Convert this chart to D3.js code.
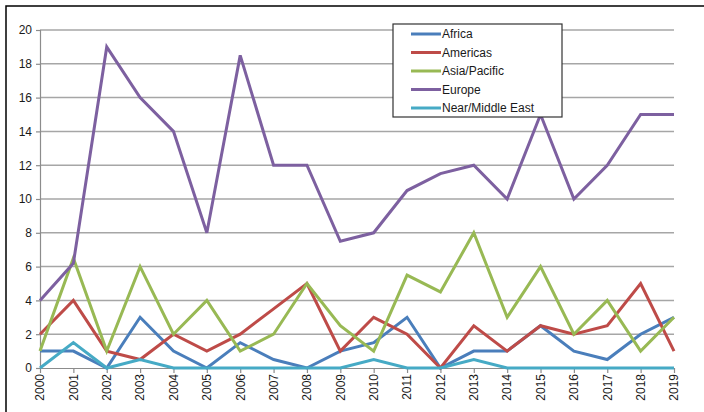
<!DOCTYPE html>
<html>
<head>
<meta charset="utf-8">
<script src="https://cdn.jsdelivr.net/npm/d3@7"></script>
<style>
  body { margin: 0; background: #fff; }
  svg { display: block; font-family: "Liberation Sans", Arial, sans-serif; }
</style>
</head>
<body>
<div id="chart"></div>
<script>
// years on the x axis
var years = d3.range(2000, 2020);

// incidents per region
var africa    = [1, 1, 0, 3, 1, 0, 1.5, 0.5, 0, 1, 1.5, 3, 0, 1, 1, 2.5, 1, 0.5, 2, 3];
var americas  = [2, 4, 1, 0.5, 2, 1, 2, 3.5, 5, 1, 3, 2, 0, 2.5, 1, 2.5, 2, 2.5, 5, 1];
var asiaPac   = [1, 6.5, 1, 6, 2, 4, 1, 2, 5, 2.5, 1, 5.5, 4.5, 8, 3, 6, 2, 4, 1, 3];
var europe    = [4, 6.2, 19, 16, 14, 8, 18.5, 12, 12, 7.5, 8, 10.5, 11.5, 12, 10, 15, 10, 12, 15, 15];
var nearEast  = [0, 1.5, 0, 0.5, 0, 0, 0, 0, 0, 0, 0.5, 0, 0, 0.5, 0, 0, 0, 0, 0, 0];

var seriesNames  = ["Africa", "Americas", "Asia/Pacific", "Europe", "Near/Middle East"];
var seriesValues = [africa, americas, asiaPac, europe, nearEast];
var seriesColors = ["#4a7ebb", "#be4b48", "#98b954", "#7d60a0", "#46aac5"];
var yTicks = [0, 2, 4, 6, 8, 10, 12, 14, 16, 18, 20];

var width = 704, height = 412;
var margin = {top: 30, right: 30, bottom: 44, left: 40};

var svg = d3.select("#chart").append("svg")
    .attr("width", width)
    .attr("height", height);

// outer frame (right / bottom edges fall outside the crop)
svg.append("rect")
    .attr("x", 6).attr("y", 6)
    .attr("width", 710).attr("height", 420)
    .attr("fill", "#fff")
    .attr("stroke", "#000")
    .attr("stroke-width", 1.5);

var x = d3.scalePoint()
    .domain(years)
    .range([margin.left, width - margin.right]);

var y = d3.scaleLinear()
    .domain([0, 20])
    .range([height - margin.bottom, margin.top]);

// gridlines
svg.append("g")
  .selectAll("line")
  .data(yTicks.slice(1))
  .join("line")
    .attr("x1", margin.left).attr("x2", width - margin.right)
    .attr("y1", function(d) { return y(d); })
    .attr("y2", function(d) { return y(d); })
    .attr("stroke", "#a6a6a6")
    .attr("stroke-width", 1.5);

// y axis
var yAxis = svg.append("g")
    .attr("transform", "translate(" + margin.left + ",0)")
    .call(d3.axisLeft(y).tickValues(yTicks).tickSize(4).tickPadding(4));
yAxis.selectAll("line, path").attr("stroke", "#8c8c8c").attr("stroke-width", 1.2);
yAxis.selectAll("text").attr("font-size", 12).attr("fill", "#1a1a1a")
    .attr("font-family", "Liberation Sans, Arial, sans-serif");

// x axis
var xAxis = svg.append("g")
    .attr("transform", "translate(0," + y(0) + ")")
    .call(d3.axisBottom(x).tickSize(5).tickSizeOuter(0));
xAxis.selectAll("line, path").attr("stroke", "#8c8c8c").attr("stroke-width", 1.2);
xAxis.selectAll("text")
    .attr("font-size", 12)
    .attr("fill", "#1a1a1a")
    .attr("font-family", "Liberation Sans, Arial, sans-serif")
    .style("text-anchor", "end")
    .attr("dx", "-0.5em")
    .attr("dy", "-0.35em")
    .attr("transform", "rotate(-90)");

// lines
var line = d3.line()
    .x(function(d, i) { return x(years[i]); })
    .y(function(d) { return y(d); });

svg.append("g")
  .selectAll("path")
  .data(seriesValues)
  .join("path")
    .attr("fill", "none")
    .attr("stroke", function(d, i) { return seriesColors[i]; })
    .attr("stroke-width", 3)
    .attr("stroke-linejoin", "miter")
    .attr("d", line);

// legend
var legend = svg.append("g").attr("transform", "translate(393,24)");
legend.append("rect")
    .attr("width", 169).attr("height", 93)
    .attr("fill", "#fff")
    .attr("stroke", "#333")
    .attr("stroke-width", 1.2);

var rows = legend.selectAll("g.row")
  .data(seriesNames)
  .join("g")
    .attr("class", "row")
    .attr("transform", function(d, i) { return "translate(0," + (10 + i * 18.5) + ")"; });
rows.append("line")
    .attr("x1", 18).attr("x2", 48)
    .attr("stroke", function(d, i) { return seriesColors[i]; })
    .attr("stroke-width", 3);
rows.append("text")
    .attr("x", 49).attr("dy", "0.35em")
    .attr("font-size", 12)
    .attr("fill", "#1a1a1a")
    .text(function(d) { return d; });
</script>
</body>
</html>
